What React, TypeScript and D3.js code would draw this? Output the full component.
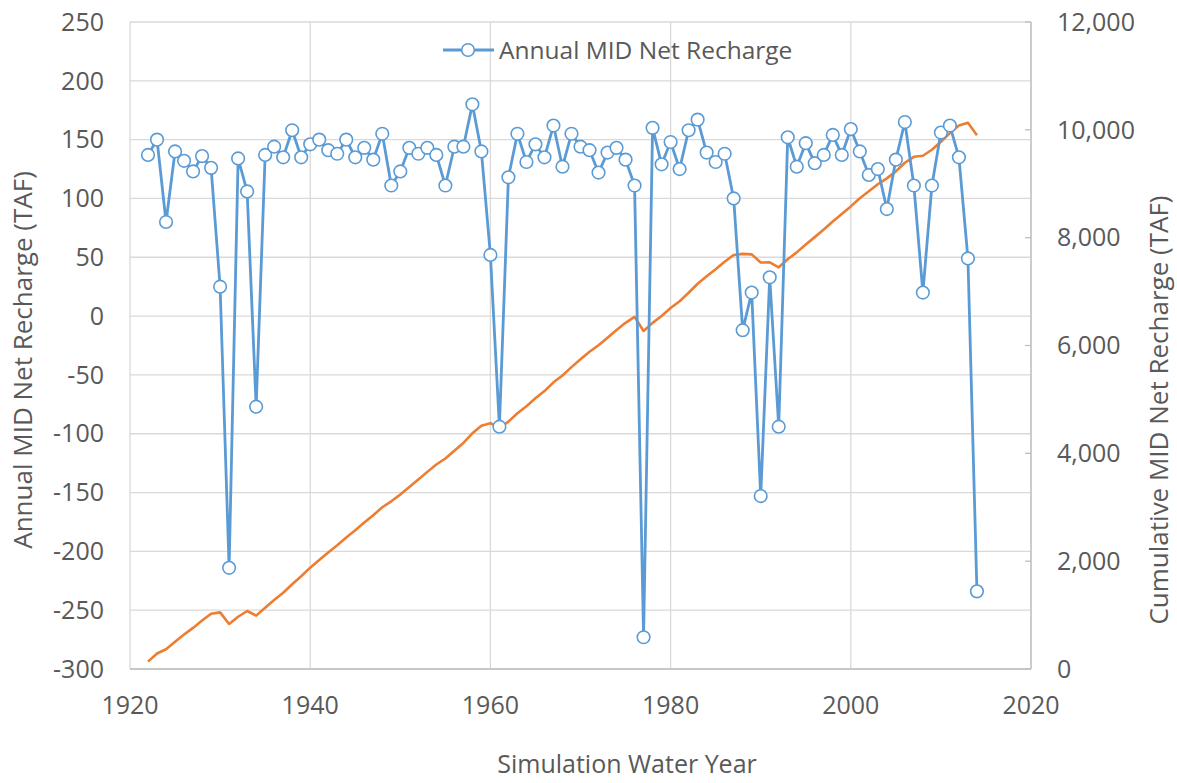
import { useEffect, useRef } from 'react'
import * as d3 from 'd3'

// water years on the x axis
const years = d3.range(1922, 2015)

// annual MID net recharge (TAF)
const annualRecharge = [
  137, 150, 80, 140, 132, 123, 136, 126, 25, -214,
  134, 106, -77, 137, 144, 135, 158, 135, 146, 150,
  141, 138, 150, 135, 143, 133, 155, 111, 123, 143,
  138, 143, 137, 111, 144, 144, 180, 140, 52, -94,
  118, 155, 131, 146, 135, 162, 127, 155, 144, 141,
  122, 139, 143, 133, 111, -273, 160, 129, 148, 125,
  158, 167, 139, 131, 138, 100, -12, 20, -153, 33,
  -94, 152, 127, 147, 130, 137, 154, 137, 159, 140,
  120, 125, 91, 133, 165, 111, 20, 111, 156, 162,
  135, 49, -234,
]

// cumulative MID net recharge (TAF)
const cumulativeRecharge = [
  137, 287, 367, 507, 639, 762, 898, 1024, 1050, 835,
  969, 1076, 990, 1135, 1280, 1415, 1572, 1720, 1880, 2020,
  2160, 2295, 2440, 2575, 2715, 2850, 3000, 3110, 3235, 3375,
  3513, 3656, 3793, 3904, 4048, 4192, 4372, 4512, 4560, 4470,
  4588, 4743, 4874, 5020, 5155, 5317, 5444, 5599, 5743, 5884,
  6006, 6145, 6288, 6421, 6532, 6270, 6420, 6548, 6696, 6821,
  6979, 7146, 7285, 7416, 7554, 7680, 7700, 7690, 7540, 7542,
  7450, 7600, 7727, 7873, 8010, 8150, 8300, 8440, 8580, 8730,
  8860, 8990, 9100, 9230, 9390, 9500, 9520, 9630, 9780, 9940,
  10080, 10130, 9900,
]

const leftTicks = d3.range(-300, 251, 50)
const rightTicks = d3.range(0, 12001, 2000)
const xTicks = [1920, 1940, 1960, 1980, 2000, 2020]

const W = 1177
const H = 783
const FONT = "'Open Sans', sans-serif"
const TEXT = '#595959'
const BLUE = '#5B9BD5'
const ORANGE = '#ED7D31'
const GRID = '#D9D9D9'

export default function App() {
  const ref = useRef<SVGSVGElement>(null)

  useEffect(() => {
    document.body.style.margin = '0'
    const svg = d3.select(ref.current)
    svg.selectAll('*').remove()

    // plot area box
    const x0 = 130, x1 = 1031, y0 = 22, y1 = 669

    const x = d3.scaleLinear().domain([1920, 2020]).range([x0, x1])
    const yL = d3.scaleLinear().domain([-300, 250]).range([y1, y0])
    const yR = d3.scaleLinear().domain([0, 12000]).range([y1, y0])

    const g = svg.append('g')

    // gridlines
    g.append('g').selectAll('line.h')
      .data(leftTicks)
      .join('line')
      .attr('x1', x0).attr('x2', x1)
      .attr('y1', d => yL(d)).attr('y2', d => yL(d))
      .attr('stroke', GRID).attr('stroke-width', 1.3)

    g.append('g').selectAll('line.v')
      .data(xTicks)
      .join('line')
      .attr('x1', d => x(d)).attr('x2', d => x(d))
      .attr('y1', y0).attr('y2', y1)
      .attr('stroke', GRID).attr('stroke-width', 1.3)

    // right axis line + little ticks
    g.append('line')
      .attr('x1', x1).attr('x2', x1).attr('y1', y0).attr('y2', y1)
      .attr('stroke', '#BFBFBF').attr('stroke-width', 1.3)
    g.append('g').selectAll('line')
      .data(rightTicks)
      .join('line')
      .attr('x1', x1 - 6).attr('x2', x1)
      .attr('y1', d => yR(d)).attr('y2', d => yR(d))
      .attr('stroke', '#BFBFBF').attr('stroke-width', 1.3)
    // bottom axis line
    g.append('line')
      .attr('x1', x0).attr('x2', x1).attr('y1', y1).attr('y2', y1)
      .attr('stroke', '#BFBFBF').attr('stroke-width', 1.3)

    // tick labels
    const labels = g.append('g')
      .style('font-family', FONT).style('font-size', '25px').attr('fill', TEXT)

    labels.selectAll('text.l')
      .data(leftTicks)
      .join('text')
      .attr('x', 104).attr('y', d => yL(d)).attr('dy', '0.35em')
      .attr('text-anchor', 'end')
      .text(d => d)

    labels.selectAll('text.r')
      .data(rightTicks)
      .join('text')
      .attr('class', 'r')
      .attr('x', 1057).attr('y', d => yR(d)).attr('dy', '0.35em')
      .attr('text-anchor', 'start')
      .text(d => d3.format(',')(d))

    labels.selectAll('text.x')
      .data(xTicks)
      .join('text')
      .attr('class', 'x')
      .attr('x', d => x(d)).attr('y', 714)
      .attr('text-anchor', 'middle')
      .text(d => d)

    // axis titles
    const titles = g.append('g')
      .style('font-family', FONT).style('font-size', '26px').attr('fill', TEXT)
    titles.append('text')
      .attr('transform', `translate(32,360) rotate(-90)`)
      .attr('text-anchor', 'middle')
      .text('Annual MID Net Recharge (TAF)')
    titles.append('text')
      .attr('transform', `translate(1168,410) rotate(-90)`)
      .attr('text-anchor', 'middle')
      .text('Cumulative MID Net Recharge (TAF)')
    titles.append('text')
      .attr('x', 627).attr('y', 773)
      .attr('text-anchor', 'middle')
      .style('font-size', '25px')
      .text('Simulation Water Year')

    // cumulative orange line (right axis)
    const cumLine = d3.line<number>()
      .x((_, i) => x(years[i]))
      .y(d => yR(d))
    g.append('path')
      .datum(cumulativeRecharge)
      .attr('d', cumLine)
      .attr('fill', 'none')
      .attr('stroke', ORANGE)
      .attr('stroke-width', 2.6)
      .attr('stroke-linejoin', 'round')

    // annual blue line + markers (left axis)
    const annLine = d3.line<number>()
      .x((_, i) => x(years[i]))
      .y(d => yL(d))
    g.append('path')
      .datum(annualRecharge)
      .attr('d', annLine)
      .attr('fill', 'none')
      .attr('stroke', BLUE)
      .attr('stroke-width', 2.8)
      .attr('stroke-linejoin', 'round')

    g.append('g').selectAll('circle')
      .data(annualRecharge)
      .join('circle')
      .attr('cx', (_, i) => x(years[i]))
      .attr('cy', d => yL(d))
      .attr('r', 6.3)
      .attr('fill', 'white')
      .attr('stroke', BLUE)
      .attr('stroke-width', 1.6)

    // legend
    const leg = g.append('g')
    leg.append('line')
      .attr('x1', 443).attr('x2', 494).attr('y1', 50).attr('y2', 50)
      .attr('stroke', BLUE).attr('stroke-width', 2.8)
    leg.append('circle')
      .attr('cx', 468).attr('cy', 50).attr('r', 6.3)
      .attr('fill', 'white').attr('stroke', BLUE).attr('stroke-width', 1.6)
    leg.append('text')
      .attr('x', 499).attr('y', 50).attr('dy', '0.35em')
      .style('font-family', FONT).style('font-size', '24.5px').attr('fill', TEXT)
      .text('Annual MID Net Recharge')
  }, [])

  return (
    <svg ref={ref} width={W} height={H} style={{ display: 'block', background: 'white' }} />
  )
}
